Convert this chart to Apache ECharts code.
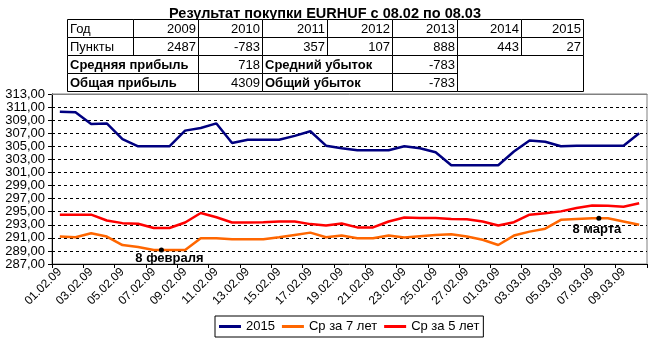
<!DOCTYPE html>
<html>
<head>
<meta charset="utf-8">
<script src="https://cdn.jsdelivr.net/npm/echarts/dist/echarts.min.js"></script>
<style>
html,body{margin:0;padding:0;background:#fff;}
#chart{width:650px;height:343px;}
</style>
</head>
<body>
<div id="chart"></div>
<script>
// ---- data ----
const categories = ['01.02.09','02.02.09','03.02.09','04.02.09','05.02.09','06.02.09','07.02.09','08.02.09','09.02.09','10.02.09',
  '11.02.09','12.02.09','13.02.09','14.02.09','15.02.09','16.02.09','17.02.09','18.02.09','19.02.09','20.02.09',
  '21.02.09','22.02.09','23.02.09','24.02.09','25.02.09','26.02.09','27.02.09','28.02.09','01.03.09','02.03.09',
  '03.03.09','04.03.09','05.03.09','06.03.09','07.03.09','08.03.09','09.03.09','10.03.09'];
const series2015 = [310.3,310.2,308.4,308.5,306.1,305.0,305.0,305.0,307.4,307.8,
  308.5,305.5,306.0,306.0,306.0,306.6,307.3,305.1,304.7,304.4,
  304.4,304.4,305.0,304.7,304.1,302.1,302.1,302.1,302.1,304.2,
  305.9,305.7,305.0,305.1,305.1,305.1,305.1,307.0];
const seriesAvg7 = [291.2,291.1,291.7,291.2,289.9,289.6,289.15,289.15,289.15,290.95,
  290.95,290.8,290.8,290.8,291.1,291.45,291.8,291.1,291.35,290.95,
  290.95,291.35,291.05,291.25,291.45,291.55,291.2,290.7,289.9,291.35,
  291.95,292.4,293.75,293.9,294.0,294.0,293.5,293.0];
const seriesAvg5 = [294.55,294.55,294.55,293.65,293.25,293.15,292.5,292.5,293.35,294.8,
  294.15,293.35,293.35,293.4,293.5,293.5,293.1,292.9,293.2,292.6,
  292.6,293.5,294.1,294.05,294.05,293.9,293.85,293.5,292.9,293.4,
  294.55,294.75,295.05,295.55,295.95,295.9,295.75,296.3];
const seriesNames = ['2015','Ср за 7 лет','Ср за 5 лет'];
const yMin = 287, yMax = 313, yStep = 2;
const annotations = [
  {date:'08.02.09', value:289.15, text:'8 февраля'},
  {date:'08.03.09', value:294.0, text:'8 марта'}
];
// table
const titleText = 'Результат покупки EURHUF с 08.02 по 08.03';
const tableYears = ['2009','2010','2011','2012','2013','2014','2015'];
const tablePoints = ['2487','-783','357','107','888','443','27'];
const avgProfit = '718', avgLoss = '-783', totalProfit = '4309', totalLoss = '-783';

// ---- layout ----
const FONT = '"Liberation Sans", Arial, sans-serif';
const colX = [67,133,198,262,327,392,457,521,583];
const rowY = [19,37,55,73,91];

const g = [];
function cell(x1,y1,x2,y2){
  g.push({type:'rect', shape:{x:x1+0.5,y:y1+0.5,width:x2-x1,height:y2-y1},
    style:{fill:'#fff',stroke:'#000',lineWidth:1}, z:100});
}
function txt(s,x,y,align,bold){
  g.push({type:'text', z:101, style:{text:s,x:x,y:y,align:align,verticalAlign:'middle',
    textAlign:align,textVerticalAlign:'middle',
    font:(bold?'bold ':'')+'13px '+FONT, fill:'#000'}});
}
// row 1 & 2
for(let c=0;c<8;c++){ cell(colX[c],rowY[0],colX[c+1],rowY[1]); cell(colX[c],rowY[1],colX[c+1],rowY[2]); }
txt('Год',colX[0]+3,(rowY[0]+rowY[1])/2+1,'left',false);
txt('Пункты',colX[0]+3,(rowY[1]+rowY[2])/2+1,'left',false);
for(let i=0;i<7;i++){
  txt(tableYears[i],colX[i+2]-2,(rowY[0]+rowY[1])/2+1,'right',false);
  txt(tablePoints[i],colX[i+2]-2,(rowY[1]+rowY[2])/2+1,'right',false);
}
// rows 3 & 4
for(let r=2;r<4;r++){
  cell(colX[0],rowY[r],colX[2],rowY[r+1]);
  cell(colX[2],rowY[r],colX[3],rowY[r+1]);
  cell(colX[3],rowY[r],colX[5],rowY[r+1]);
  cell(colX[5],rowY[r],colX[6],rowY[r+1]);
}
cell(colX[6],rowY[2],colX[8],rowY[4]);
txt('Средняя прибыль',colX[0]+3,(rowY[2]+rowY[3])/2+1,'left',true);
txt(avgProfit,colX[3]-2,(rowY[2]+rowY[3])/2+1,'right',false);
txt('Средний убыток',colX[3]+3,(rowY[2]+rowY[3])/2+1,'left',true);
txt(avgLoss,colX[6]-2,(rowY[2]+rowY[3])/2+1,'right',false);
txt('Общая прибыль',colX[0]+3,(rowY[3]+rowY[4])/2+1,'left',true);
txt(totalProfit,colX[3]-2,(rowY[3]+rowY[4])/2+1,'right',false);
txt('Общий убыток',colX[3]+3,(rowY[3]+rowY[4])/2+1,'left',true);
txt(totalLoss,colX[6]-2,(rowY[3]+rowY[4])/2+1,'right',false);

const chart = echarts.init(document.getElementById('chart'), null, {renderer:'canvas'});
const markData = annotations.map(a => ({
  coord:[a.date, a.value],
  label:{show:true, formatter:a.text, position:'inside', offset:[0,0]}
}));
markData[0].symbolOffset = [-8, 0];
markData[0].label.offset = [8, 8];
markData[1].symbolOffset = [-9, 0];
markData[1].label.offset = [-2, 11];

const option = {
  animation:false,
  backgroundColor:'#fff',
  textStyle:{fontFamily:FONT},
  title:{text:titleText, left:'center', top:1,
    textStyle:{fontSize:14.5, fontWeight:'bold', color:'#000', fontFamily:FONT}},
  graphic:g,
  grid:{left:52, right:3, top:94, bottom:79, show:true, borderColor:'#808080', borderWidth:1, backgroundColor:'transparent'},
  legend:{
    data:seriesNames, left:215, top:316, icon:'rect', itemWidth:22, itemHeight:3, itemGap:7,
    borderColor:'#000', borderWidth:1, padding:[4,4], backgroundColor:'#fff',
    textStyle:{fontSize:13, color:'#000', fontFamily:FONT}
  },
  xAxis:[{
    type:'category', data:categories, boundaryGap:true,
    axisLine:{lineStyle:{color:'#000', width:1}},
    axisTick:{show:true, interval:1, length:4, lineStyle:{color:'#000'}},
    axisLabel:{interval:1, rotate:45, fontSize:12, color:'#000', margin:6, fontFamily:FONT},
    splitLine:{show:false}
  },{
    type:'category', data:categories, position:'top', z:10,
    axisLine:{lineStyle:{color:'#808080', width:1}},
    axisTick:{show:false}, axisLabel:{show:false}, splitLine:{show:false}
  }],
  yAxis:{
    type:'value', min:yMin, max:yMax, interval:yStep,
    axisLine:{show:true, lineStyle:{color:'#000'}},
    axisTick:{show:true, length:4, lineStyle:{color:'#000'}},
    axisLabel:{fontSize:13, color:'#000', margin:7, fontFamily:FONT,
      formatter:v => v.toFixed(2).replace('.', ',')},
    splitLine:{show:true, lineStyle:{color:'#000', type:[3,3], width:1}}
  },
  series:[
    {name:seriesNames[0], type:'line', data:series2015, symbol:'none', lineStyle:{color:'#000080', width:2.5}, itemStyle:{color:'#000080'}},
    {name:seriesNames[1], type:'line', data:seriesAvg7, symbol:'none', lineStyle:{color:'#FF6600', width:2.5}, itemStyle:{color:'#FF6600'},
      markPoint:{symbol:'circle', symbolSize:5, itemStyle:{color:'#000'},
        label:{color:'#000', fontWeight:'bold', fontSize:13, fontFamily:FONT},
        data:markData}},
    {name:seriesNames[2], type:'line', data:seriesAvg5, symbol:'none', lineStyle:{color:'#FF0000', width:2.5}, itemStyle:{color:'#FF0000'}}
  ]
};
chart.setOption(option);
</script>
</body>
</html>
